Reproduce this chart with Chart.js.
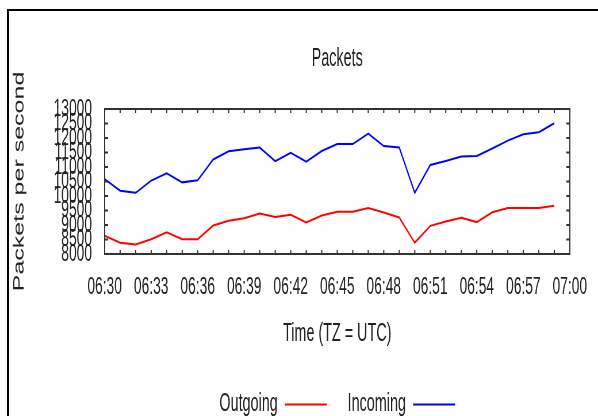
<!DOCTYPE html>
<html>
<head>
<meta charset="utf-8">
<script src="https://cdn.jsdelivr.net/npm/chart.js@4.4.0/dist/chart.umd.min.js"></script>
<style>
  html, body { margin: 0; padding: 0; background: #fff; }
  #chart { display: block; }
</style>
</head>
<body>
<!-- drawn wide, then squeezed to 598px like the original image -->
<canvas id="chart" width="1040" height="416" style="width:598px;height:416px"></canvas>
<script>
// one label a minute, 06:30 .. 07:00
const minutes = [
  '06:30', '06:31', '06:32', '06:33', '06:34', '06:35', '06:36', '06:37', '06:38', '06:39',
  '06:40', '06:41', '06:42', '06:43', '06:44', '06:45', '06:46', '06:47', '06:48', '06:49',
  '06:50', '06:51', '06:52', '06:53', '06:54', '06:55', '06:56', '06:57', '06:58', '06:59',
  '07:00'
];

// packets per second, 06:30 .. 06:59
const outgoing = [
  8630, 8390, 8330, 8510, 8750, 8510, 8510, 8980, 9150, 9230,
  9400, 9280, 9350, 9090, 9330, 9460, 9460, 9590, 9430, 9260,
  8390, 8970, 9120, 9250, 9100, 9440, 9590, 9590, 9590, 9660
];
const incoming = [
  10580, 10180, 10110, 10530, 10780, 10470, 10540, 11260, 11540, 11610,
  11670, 11200, 11490, 11180, 11550, 11790, 11790, 12150, 11720, 11670,
  10110, 11070, 11210, 11360, 11380, 11640, 11910, 12130, 12200, 12510
];

// y axis range
const yMin = 8000;
const yMax = 13000;
const yStep = 500;

Chart.defaults.font.family = '"Liberation Sans", Arial, sans-serif';
Chart.defaults.color = '#222';

// white page, black border on the left and top, plot frame with inward ticks
const framePlugin = {
  id: 'frame',
  beforeDraw(chart) {
    const ctx = chart.ctx;
    ctx.save();
    ctx.fillStyle = '#fff';
    ctx.fillRect(0, 0, chart.width, chart.height);
    ctx.strokeStyle = '#000';
    ctx.lineWidth = 4;
    ctx.beginPath();
    ctx.moveTo(14, chart.height);
    ctx.lineTo(14, 10);
    ctx.stroke();
    ctx.lineWidth = 2;
    ctx.beginPath();
    ctx.moveTo(12, 10);
    ctx.lineTo(chart.width, 10);
    ctx.stroke();
    ctx.restore();
  },
  afterDraw(chart) {
    const { ctx, chartArea: a } = chart;
    const x = chart.scales.x;
    const y = chart.scales.y;
    ctx.save();
    ctx.strokeStyle = '#333';
    ctx.lineWidth = 2;
    ctx.strokeRect(a.left, a.top, a.right - a.left, a.bottom - a.top);
    ctx.beginPath();
    x.ticks.forEach((t, i) => {
      const px = x.getPixelForTick(i);
      ctx.moveTo(px, a.top);
      ctx.lineTo(px, a.top + 4);
      ctx.moveTo(px, a.bottom);
      ctx.lineTo(px, a.bottom - 4);
    });
    y.ticks.forEach((t, i) => {
      const py = y.getPixelForTick(i);
      ctx.moveTo(a.left, py);
      ctx.lineTo(a.left + 6, py);
      ctx.moveTo(a.right, py);
      ctx.lineTo(a.right - 6, py);
    });
    ctx.stroke();
    ctx.restore();
  }
};

new Chart(document.getElementById('chart'), {
  type: 'line',
  data: {
    labels: minutes,
    datasets: [
      {
        label: 'Outgoing',
        data: outgoing,
        borderColor: '#ff0000',
        backgroundColor: '#ff0000',
        borderWidth: 2,
        pointRadius: 0,
        tension: 0
      },
      {
        label: 'Incoming',
        data: incoming,
        borderColor: '#0000ff',
        backgroundColor: '#0000ff',
        borderWidth: 2,
        pointRadius: 0,
        tension: 0
      }
    ]
  },
  options: {
    responsive: false,
    devicePixelRatio: 1,
    animation: false,
    layout: { padding: { left: 0, right: 45, top: 0, bottom: 0 } },
    plugins: {
      title: {
        display: true,
        text: 'Packets',
        fullSize: false,
        color: '#222',
        font: { size: 25, weight: 'normal' },
        padding: { top: 44, bottom: 35 }
      },
      legend: {
        position: 'bottom',
        fullSize: false,
        rtl: true,
        reverse: true,
        maxHeight: 60,
        labels: {
          boxWidth: 73,
          boxHeight: 0,
          padding: 36,
          color: '#222',
          font: { size: 25 }
        }
      },
      tooltip: { enabled: false }
    },
    scales: {
      x: {
        type: 'category',
        grid: { display: false, drawTicks: false },
        border: { display: false },
        ticks: {
          autoSkip: false,
          maxRotation: 0,
          minRotation: 0,
          padding: 19,
          font: { size: 24 },
          callback: function (v, i) {
            return i % 3 === 0 ? this.getLabelForValue(v) : '';
          }
        },
        title: {
          display: true,
          text: 'Time (TZ = UTC)',
          font: { size: 25 },
          padding: { top: 0, bottom: 7 }
        },
        afterFit: (s) => { s.height = 102; }
      },
      y: {
        min: yMin,
        max: yMax,
        grid: { display: false, drawTicks: false },
        border: { display: false },
        ticks: {
          stepSize: yStep,
          autoSkip: false,
          padding: 22,
          font: { size: 24 },
          callback: (v) => String(v)
        },
        title: {
          display: true,
          text: 'Packets per second',
          font: { size: 25 },
          padding: { top: 19, bottom: 0 }
        },
        afterFit: (s) => { s.width = 182; }
      }
    }
  },
  plugins: [framePlugin]
});
</script>
</body>
</html>
